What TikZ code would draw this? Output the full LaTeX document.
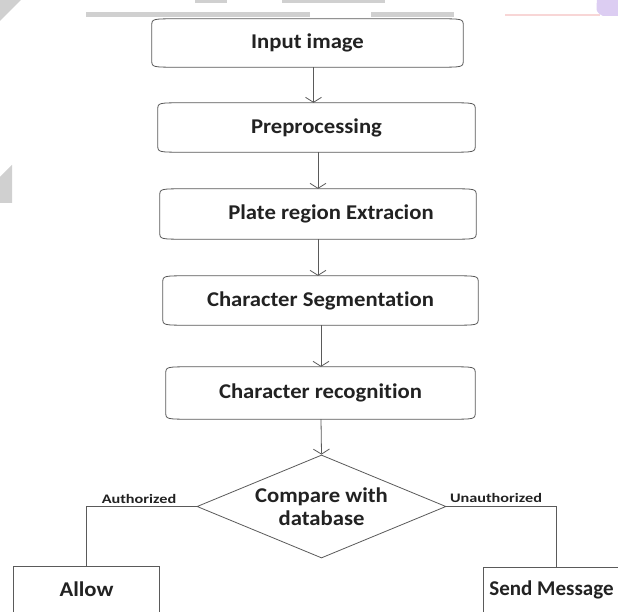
\documentclass[tikz,border=0pt]{standalone}
\usepackage{fontspec}
\usetikzlibrary{shapes.geometric,arrows.meta,calc}
\newfontfamily\boxfont{Carlito}[FakeStretch=1.08,Ligatures=NoCommon]
\newfontfamily\sendfont{Carlito}[Ligatures=NoCommon]
\newfontfamily\lblfont{Carlito}[FakeStretch=1.25,Ligatures=NoCommon]
\definecolor{linec}{HTML}{5A5A5A}
\definecolor{textc}{HTML}{222222}
\definecolor{bgrey}{HTML}{D0D0D0}
\definecolor{lav}{HTML}{DCCDF2}
\definecolor{pinkc}{HTML}{F8D6D6}
\newcommand\altbox[1]{%
  \draw[boxline] ($(#1.north west)+(26pt,0)$) -- ($(#1.north east)+(-26pt,0)$)
    .. controls (#1.north east) .. ($(#1.north east)+(0,-7pt)$)
    -- ($(#1.south east)+(0,7pt)$)
    .. controls (#1.south east) .. ($(#1.south east)+(-26pt,0)$)
    -- ($(#1.south west)+(26pt,0)$)
    .. controls (#1.south west) .. ($(#1.south west)+(0,7pt)$)
    -- ($(#1.north west)+(0,-7pt)$)
    .. controls (#1.north west) .. ($(#1.north west)+(26pt,0)$) -- cycle;}
\begin{document}
\begin{tikzpicture}[x=1pt,y=1pt,
  boxline/.style={draw=linec,line width=0.8pt},
  proc/.style={inner sep=0pt,text=textc,font=\boxfont\bfseries\fontsize{21}{24}\selectfont},
  decis/.style={diamond,draw=linec,line width=0.8pt,aspect=2.4,inner sep=0pt,
    minimum width=249pt,minimum height=103pt,align=center,text=textc,
    font=\boxfont\bfseries\fontsize{21}{23}\selectfont},
  endbox/.style={draw=linec,line width=0.8pt,inner sep=0pt,minimum width=146pt,
    minimum height=46pt,text=textc,font=\boxfont\bfseries\fontsize{21}{24}\selectfont},
  lbl/.style={inner sep=0pt,text=textc,font=\lblfont\bfseries\fontsize{13}{15}\selectfont},
  arr/.style={draw=linec,line width=0.8pt,-{Straight Barb[length=5pt,width=16pt]}},
  conn/.style={draw=linec,line width=0.8pt}]
\clip (0,0) rectangle (618,-612);
\fill[white] (0,0) rectangle (618,-612);
% page artefacts
\fill[bgrey] (195,0) rectangle (227,-3);
\fill[bgrey] (282,0) rectangle (385,-3);
\fill[bgrey] (86,-12) rectangle (310,-17);
\fill[bgrey] (371,-12) rectangle (454,-17);
\fill[bgrey] (0,0) -- (21,0) -- (0,-21) -- cycle;
\fill[bgrey] (0,-177) -- (12,-165) -- (12,-203) -- (0,-203) -- cycle;
\fill[pinkc] (505,-14) rectangle (600,-16);
\fill[lav] (597,0) -- (618,0) -- (618,-16) -- (603,-16) .. controls (596,-12) .. (597,0) -- cycle;
% process boxes
\node[proc,minimum width=311pt,minimum height=48pt] (in) at (307.5,-43) {Input image};
\node[proc,minimum width=317pt,minimum height=49pt] (pre) at (316.5,-127.5) {Preprocessing};
\node[proc,minimum width=316pt,minimum height=50pt] (plate) at (318,-214) {\hspace*{26pt}Plate region Extracion};
\node[proc,minimum width=315pt,minimum height=49pt] (seg) at (320.5,-300.5) {Character Segmentation};
\node[proc,minimum width=309pt,minimum height=52pt] (rec) at (320.5,-393) {Character recognition};
\altbox{in}\altbox{pre}\altbox{plate}\altbox{seg}\altbox{rec}
\node[decis] (dia) at (321.5,-506.5) {Compare with\\database};
\node[endbox] (allow) at (86.5,-589) {Allow};
\node[endbox,font=\sendfont\bfseries\fontsize{21}{24}\selectfont] (send) at (556,-590) {\hspace*{-9pt}Send Message};
% connectors
\draw[arr] ($(in.south)+(6pt,0)$) -- ($(pre.north)+(-3pt,0)$);
\draw[arr] ($(pre.south)+(1.5pt,0)$) -- ($(plate.north)+(0,0)$);
\draw[arr] (plate.south) -- ($(seg.north)+(-2.5pt,0)$);
\draw[arr] ($(seg.south)+(0.5pt,0)$) -- ($(rec.north)+(0.5pt,0)$);
\draw[arr] ($(rec.south)+(0.5pt,0)$) -- (dia.north);
\draw[conn] (dia.west) -| (allow.north);
\draw[conn] (dia.east) -| (send.north);
\node[lbl] (la) at (139,-499) {Authorized};
\node[lbl] (lu) at (496,-498) {Unauthorized};
\end{tikzpicture}
\end{document}
